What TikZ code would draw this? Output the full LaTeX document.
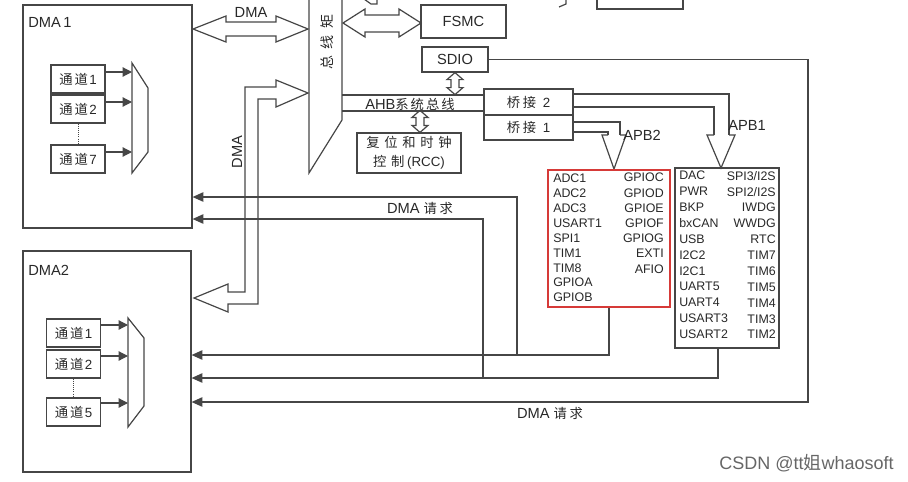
\documentclass[tikz,border=0pt]{standalone}
\usepackage{fontspec}
\setmainfont{Liberation Sans}
\newfontfamily\cjk{Noto Sans CJK SC}
\usetikzlibrary{arrows.meta}
\definecolor{linec}{RGB}{70,70,70}
\definecolor{txt}{RGB}{40,40,40}
\definecolor{redbox}{RGB}{214,58,56}
\tikzset{
  box/.style={draw=linec, line width=0.9pt, inner sep=0pt, text=txt},
  wire/.style={draw=linec, line width=0.9pt},
  req/.style={wire, -{Triangle[length=8pt,width=7pt]}},
  chan/.style={wire, -{Triangle[length=7pt,width=7pt]}},
  fat/.style={draw=linec, line width=0.9pt, line join=miter},
  lbl/.style={text=txt, inner sep=0pt, font=\fontsize{11}{13}\selectfont},
  chbox/.style={box, minimum width=40.5pt, minimum height=21pt, font=\fontsize{10}{12}\selectfont},
  list/.style={text=txt, inner sep=0pt},
}
\begin{document}
\begin{tikzpicture}[x=0.75pt, y=-0.75pt]
\useasboundingbox (0,0) rectangle (908,482);
\clip (0,0) rectangle (908,482);

% DMA controllers
\node[box, minimum width=126.75pt, minimum height=167.25pt] (dma1) at (107.5,116.5) {};
\node[lbl, anchor=west] (dma1name) at (28,22) {DMA\,1};
\node[chbox] (c11) at (78,79) {{\cjk 通\hspace{1.5pt}道}\hspace{1pt}1};
\node[chbox] (c12) at (78,109) {{\cjk 通\hspace{1.5pt}道}\hspace{1pt}2};
\node[chbox] (c17) at (78,159) {{\cjk 通\hspace{1.5pt}道}\hspace{1pt}7};
\draw[wire, line width=0.6pt, densely dotted] (c12.south) -- (c17.north);
\draw[box] (132,63) -- (148,88) -- (148,152) -- (132,173) -- cycle;
\coordinate (m11) at (132,72);
\coordinate (m12) at (132,102);
\coordinate (m17) at (132,152);
\draw[chan] (c11.east |- m11) -- (m11);
\draw[chan] (c12.east |- m12) -- (m12);
\draw[chan] (c17.east |- m17) -- (m17);

\node[box, minimum width=126pt, minimum height=165.75pt] (dma2) at (107,361.5) {};
\node[lbl, anchor=west] (dma2name) at (28,270) {DMA2};
\node[chbox] (c21) at (73.5,333) {{\cjk 通\hspace{1.5pt}道}\hspace{1pt}1};
\node[chbox] (c22) at (73.5,364) {{\cjk 通\hspace{1.5pt}道}\hspace{1pt}2};
\node[chbox] (c25) at (73.5,412) {{\cjk 通\hspace{1.5pt}道}\hspace{1pt}5};
\draw[wire, line width=0.6pt, densely dotted] (c22.south) -- (c25.north);
\draw[box] (128,318) -- (144,338) -- (144,406) -- (128,427) -- cycle;
\coordinate (m21) at (128,325);
\coordinate (m22) at (128,356);
\coordinate (m25) at (128,403);
\draw[chan] (c21.east |- m21) -- (m21);
\draw[chan] (c22.east |- m22) -- (m22);
\draw[chan] (c25.east |- m25) -- (m25);

% bus matrix
\draw[box] (309,-5) -- (309,173) -- (342,120) -- (342,-5);
\node[lbl, rotate=90, font=\cjk\fontsize{10.5}{12}\selectfont] (busname) at (327,42) {总\hspace{5pt}线\hspace{5pt}矩};
\draw[fat] (193,29) -- (226,16) -- (226,22) -- (276,22) -- (276,16) -- (308,29)
  -- (276,42) -- (276,36) -- (226,36) -- (226,42) -- cycle;
\node[lbl] (dmatop) at (251,12) {DMA};
\draw[fat] (308,93) -- (276,80) -- (276,87) -- (245,87) -- (245,292) -- (228,292)
  -- (228,284) -- (194,298) -- (228,312) -- (228,304) -- (258,304) -- (258,99)
  -- (276,99) -- (276,107) -- cycle;
\node[lbl, rotate=90] (dmavert) at (237,152) {DMA};

% AHB side
\node[box, minimum width=63.75pt, minimum height=24.75pt, font=\fontsize{11}{13}\selectfont] (fsmc) at (463.5,21.5) {FSMC};
\draw[fat] (343,23) -- (365,9) -- (365,15) -- (399,15) -- (399,9) -- (421,23)
  -- (399,37) -- (399,32) -- (365,32) -- (365,37) -- cycle;
\node[box, minimum width=49.5pt, minimum height=18.75pt, font=\fontsize{11}{13}\selectfont] (sdio) at (455,59.5) {SDIO};
\node[box, minimum width=78pt, minimum height=30pt, align=center, font=\fontsize{10}{14}\selectfont] (rcc) at (409,153)
  {{\cjk 复\hspace{3.5pt}位\hspace{3.5pt}和\hspace{3.5pt}时\hspace{3.5pt}钟}\\{\cjk 控\hspace{3.5pt}制}\hspace{2pt}(RCC)};
\node[box, minimum width=66.75pt, minimum height=19.5pt, font=\fontsize{10}{12}\selectfont] (br2) at (528.5,102) {{\cjk 桥\hspace{2pt}接}\hspace{5pt}2};
\node[box, minimum width=66.75pt, minimum height=18.75pt, font=\fontsize{10}{12}\selectfont] (br1) at (528.5,127.5) {{\cjk 桥\hspace{2pt}接}\hspace{5pt}1};
\coordinate (ahb1) at (342,95);
\coordinate (ahb2) at (342,111);
\draw[wire] (ahb1) -- (ahb1 -| br2.west);
\draw[wire] (ahb2) -- (ahb2 -| br2.west);
\node[lbl] (ahbname) at (410,104) {AHB{\cjk\fontsize{10}{12}\selectfont 系\hspace{1.5pt}统\hspace{1.5pt}总\hspace{1.5pt}线}};
\draw[fat] (sdio.south) -- ++(8,7) -- ++(-4,0) -- ++(0,8) -- ++(4,0) -- ++(-8,7)
  -- ++(-8,-7) -- ++(4,0) -- ++(0,-8) -- ++(-4,0) -- cycle;
\draw[fat] ([xshift=8.25pt]rcc.north) -- ++(8,-7) -- ++(-4,0) -- ++(0,-8) -- ++(4,0) -- ++(-8,-7)
  -- ++(-8,7) -- ++(4,0) -- ++(0,8) -- ++(-4,0) -- cycle;

% APB buses
\coordinate (p1a) at (729,135);
\coordinate (p1b) at (714,135);
\draw[wire] ([yshift=6pt]br2.east) -| (p1a);
\draw[wire] ([yshift=-3.75pt]br2.east) -| (p1b);
\draw[fat] (p1b) -- (707,135) -- (721,168) -- (735,135) -- (p1a);
\node[lbl, anchor=west] (apb1name) at (728,125) {APB1};
\coordinate (p2a) at (620,135);
\coordinate (p2b) at (608,135);
\draw[wire] ([yshift=4.1pt]br1.east) -| (p2a);
\draw[wire] ([yshift=-3.4pt]br1.east) -| (p2b);
\draw[fat] (p2b) -- (602,135) -- (614,169) -- (626,135) -- (p2a);
\node[lbl, anchor=west] (apb2name) at (623,135) {APB2};

\node[draw=redbox, line width=1.9pt, minimum width=91.5pt, minimum height=102.75pt] (apb2) at (609,238.5) {};
\node[list, anchor=north west, align=left, font=\fontsize{9.3}{11.2}\selectfont] (apb2l) at (553,173.5)
  {ADC1\\ADC2\\ADC3\\USART1\\SPI1\\TIM1\\TIM8\\GPIOA\\GPIOB};
\node[list, anchor=north east, align=right, font=\fontsize{9.3}{11.4}\selectfont] (apb2r) at (664,173)
  {GPIOC\\GPIOD\\GPIOE\\GPIOF\\GPIOG\\EXTI\\AFIO};
\node[box, minimum width=78pt, minimum height=135pt] (apb1) at (727,258) {};
\node[list, anchor=north west, align=left, font=\fontsize{9.3}{11.9}\selectfont] (apb1l) at (679,171)
  {DAC\\PWR\\BKP\\bxCAN\\USB\\I2C2\\I2C1\\UART5\\UART4\\USART3\\USART2};
\node[list, anchor=north east, align=right, font=\fontsize{9.3}{11.9}\selectfont] (apb1r) at (776,171)
  {SPI3/I2S\\SPI2/I2S\\IWDG\\WWDG\\RTC\\TIM7\\TIM6\\TIM5\\TIM4\\TIM3\\TIM2};

% DMA requests
\coordinate (jA) at (517,355);
\coordinate (jB) at (483,378);
\coordinate (jC) at (808,402);
\coordinate (rA1) at (517,197);
\coordinate (rA2) at (483,219);
\draw[req] (jA) -- (rA1) -- (dma1.east |- rA1);
\draw[req] (jB) -- (rA2) -- (dma1.east |- rA2);
\draw[req] (apb2.south) |- (dma2.east |- jA);
\draw[req] ([xshift=-6.75pt]apb1.south) |- (dma2.east |- jB);
\draw[req] (sdio.east) -| (jC) -- (dma2.east |- jC);
\node[lbl] (req1) at (420,208) {DMA {\cjk\fontsize{10}{12}\selectfont 请\hspace{2pt}求}};
\node[lbl] (req2) at (550,413) {DMA {\cjk\fontsize{10}{12}\selectfont 请\hspace{2pt}求}};

% cut-off parts at the top edge
\node[box, minimum width=64.5pt, minimum height=30pt] (topbox) at (640,-11) {};
\draw[wire] (364,-1) -- (371,4) -- (377,4) -- (377,-1);
\draw[wire] (559,7) -- (566,4) -- (566,-1);

\node[anchor=east, text=black!60, inner sep=0pt, font=\fontsize{13.5}{15}\selectfont] (mark) at (894,463) {CSDN @tt{\cjk 姐}whaosoft};
\end{tikzpicture}
\end{document}
